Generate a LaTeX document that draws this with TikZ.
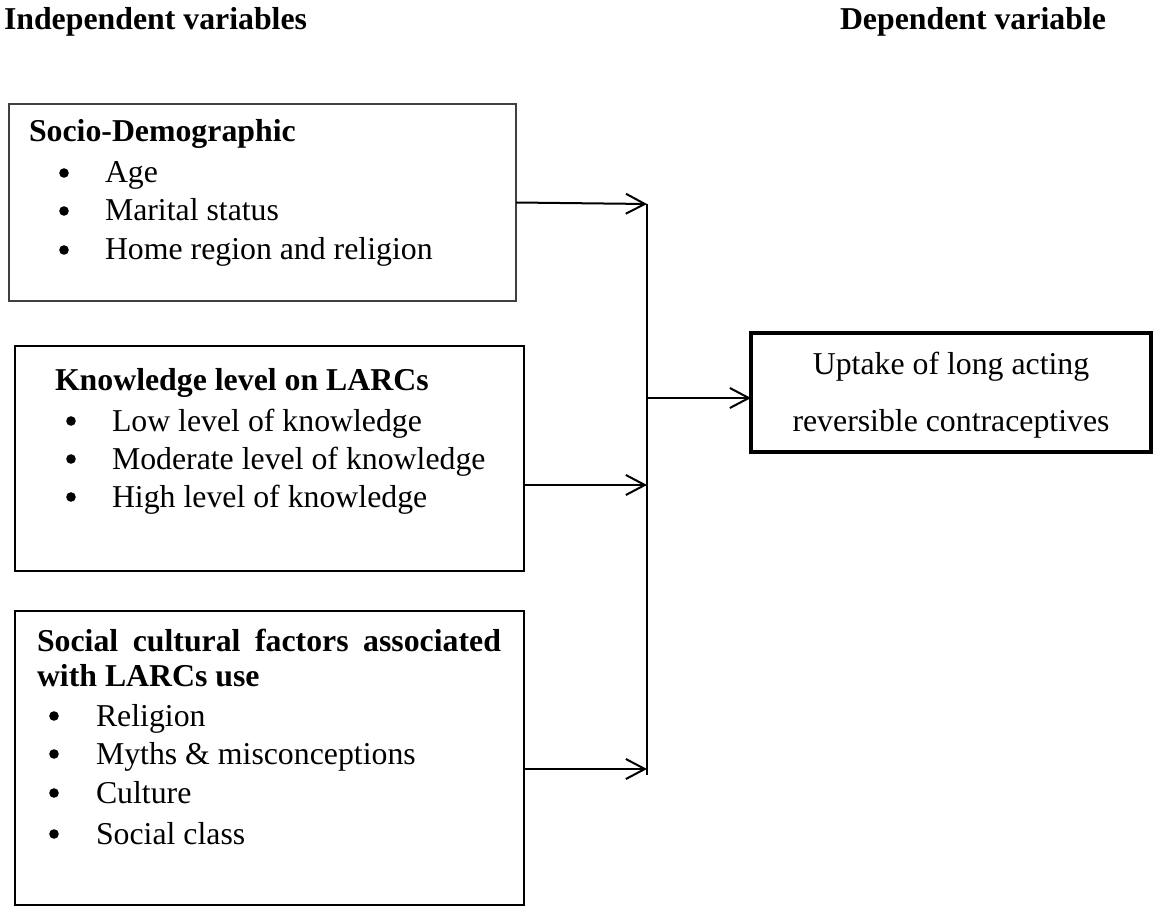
\documentclass[tikz,border=0pt]{standalone}
\usepackage{fontspec}
\setmainfont{Liberation Serif}
\usetikzlibrary{arrows.meta}
\begin{document}
\begin{tikzpicture}[x=0.5pt,y=-0.5pt,
  every node/.style={inner sep=0pt, outer sep=0pt},
  txt/.style={anchor=base west, font=\fontsize{15.9}{19}\selectfont},
  hd/.style={anchor=base west, font=\fontsize{15.9}{19}\selectfont\bfseries},
  bul/.style={circle, fill=black, minimum size=4.8pt},
  ctr/.style={anchor=base, font=\fontsize{15.9}{19}\selectfont},
  varbox/.style={draw, anchor=north west, minimum width=254.5pt},
  conn/.style={line width=1pt, -{Straight Barb[length=9.5pt,width=10pt]}}
]
\useasboundingbox (0,0) rectangle (1154,908);

% titles
\node[hd] (tl) at (4,30) {Independent variables};
\node[hd] (tr) at (840,30) {Dependent variable};

% box 1
\node[varbox, line width=0.7pt, draw=black!75, minimum width=253.5pt, minimum height=98.5pt] (b1) at (9,104) {};
\node[hd] (h1) at (29,142) {Socio-Demographic};
\node[bul] (p11) at (64,173) {};
\node[txt] (t11) at (105,183) {Age};
\node[bul] (p12) at (64,211) {};
\node[txt] (t12) at (105,221) {Marital status};
\node[bul] (p13) at (64,250) {};
\node[txt] (t13) at (105,260) {Home region and religion};

% box 2
\node[varbox, line width=1.15pt, minimum height=112.5pt] (b2) at (15,346) {};
\node[hd] (h2) at (55,391) {Knowledge level on LARCs};
\node[bul] (p21) at (71,421) {};
\node[txt] (t21) at (112,431) {Low level of knowledge};
\node[bul] (p22) at (71,459) {};
\node[txt] (t22) at (112,469) {Moderate level of knowledge};
\node[bul] (p23) at (71,497) {};
\node[txt] (t23) at (112,507) {High level of knowledge};

% box 3
\node[varbox, line width=1.15pt, minimum height=147pt] (b3) at (15,611) {};
\node[hd] (h3a) at (37,651) {\makebox[232pt][s]{Social cultural factors associated}};
\node[hd] (h3b) at (37,686) {with LARCs use};
\node[bul] (p31) at (54,716) {};
\node[txt] (t31) at (96,726) {Religion};
\node[bul] (p32) at (54,754) {};
\node[txt] (t32) at (96,764) {Myths \& misconceptions};
\node[bul] (p33) at (54,793) {};
\node[txt] (t33) at (96,803) {Culture};
\node[bul] (p34) at (54,834) {};
\node[txt] (t34) at (96,844) {Social class};

% outcome box
\node[draw, line width=2pt, anchor=north west, minimum width=200pt, minimum height=59.5pt] (out) at (751,333) {};
\node[ctr] (o1) at (951,374) {Uptake of long acting};
\node[ctr] (o2) at (951,431) {reversible contraceptives};

% connectors
\coordinate (vtop) at (647,204);
\coordinate (vbot) at (647,775);
\coordinate (a2) at (647,485);
\coordinate (a3) at (647,769);
\coordinate (m) at (647,398);
\draw[line width=1pt] (vtop) -- (vbot);
\draw[conn] (b1.east) -- (vtop);
\draw[conn] (b2.east |- a2) -- (a2);
\draw[conn] (b3.east |- a3) -- (a3);
\draw[conn] (m) -- (out.west |- m);
\end{tikzpicture}
\end{document}
